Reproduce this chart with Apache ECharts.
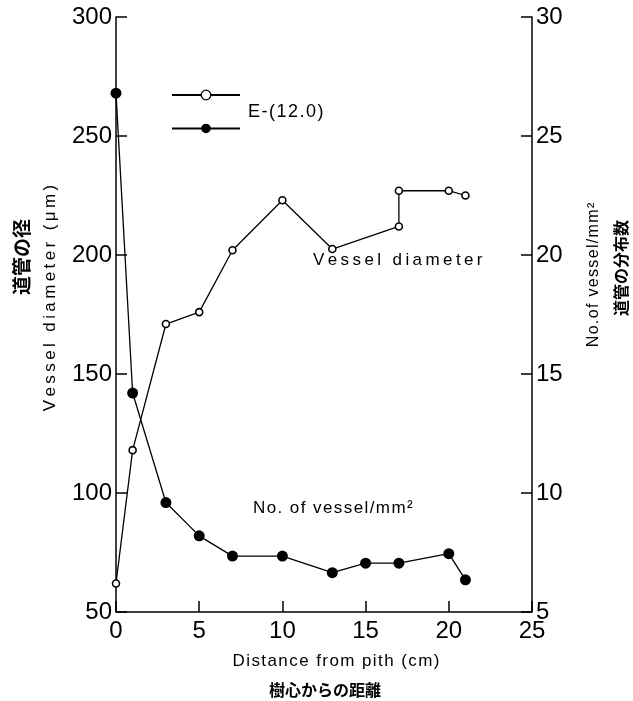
<!DOCTYPE html>
<html>
<head>
<meta charset="utf-8">
<script src="https://cdn.jsdelivr.net/npm/echarts@6/dist/echarts.min.js"></script>
<style>
html,body{margin:0;padding:0;background:#fff;}
#chart{width:633px;height:701px;}
</style>
</head>
<body>
<div id="chart"></div>
<script>
// Vessel diameter (open circles, left axis, µm)
const diameterX = [0, 1, 3, 5, 7, 10, 13, 17, 17, 20, 21];
const diameterY = [62, 118, 171, 176, 202, 223, 202.5, 212, 227, 227, 225];
// Number of vessels per mm² (filled circles, right axis)
const countX = [0, 1, 3, 5, 7, 10, 13, 15, 17, 20, 21];
const countY = [26.8, 14.2, 9.6, 8.2, 7.35, 7.35, 6.65, 7.05, 7.05, 7.45, 6.35];
// Axis ranges / ticks
const xTicks = [0, 5, 10, 15, 20, 25];
const leftTicks = [50, 100, 150, 200, 250, 300];
const rightTicks = [5, 10, 15, 20, 25, 30];
const legendText = 'E-(12.0)';

const FONT = '"Liberation Sans", Arial, sans-serif';
const CJK = '"Noto Sans CJK JP", sans-serif';
const THIN = '\u2009', HAIR = '\u200A';
const sp = (s, ch) => s.split('').join(ch);

const chart = echarts.init(document.getElementById('chart'), null, {renderer: 'canvas'});

const axisCommon = {
  axisLine: {show: true, lineStyle: {color: '#000', width: 1.5}},
  axisTick: {show: true, inside: true, length: 11, lineStyle: {color: '#000', width: 1.5}},
  splitLine: {show: false},
  axisLabel: {color: '#000', fontSize: 24, fontFamily: FONT}
};

function vText(x, y, text, font) {
  return {type: 'text', x: x, y: y, rotation: Math.PI / 2,
    style: {text: text, font: font, fill: '#000', textAlign: 'center', textVerticalAlign: 'middle'}};
}
function hText(x, y, text, font) {
  return {type: 'text', x: x, y: y,
    style: {text: text, font: font, fill: '#000', textAlign: 'center', textVerticalAlign: 'middle'}};
}

const option = {
  animation: false,
  backgroundColor: '#fff',
  grid: {left: 116, right: 101, top: 17, bottom: 89, containLabel: false},
  xAxis: Object.assign({}, axisCommon, {
    type: 'value', min: xTicks[0], max: xTicks[xTicks.length - 1], interval: 5,
    axisLabel: Object.assign({}, axisCommon.axisLabel, {margin: 7})
  }),
  yAxis: [
    Object.assign({}, axisCommon, {
      type: 'value', position: 'left', min: leftTicks[0], max: leftTicks[leftTicks.length - 1], interval: 50,
      axisLabel: Object.assign({}, axisCommon.axisLabel, {margin: 4})
    }),
    Object.assign({}, axisCommon, {
      type: 'value', position: 'right', min: rightTicks[0], max: rightTicks[rightTicks.length - 1], interval: 5,
      axisLabel: Object.assign({}, axisCommon.axisLabel, {margin: 4})
    })
  ],
  legend: {
    orient: 'vertical', left: 166, top: 84, itemWidth: 68, itemHeight: 12, itemGap: 22,
    formatter: () => '',
    data: [
      {name: 'diameter', itemStyle: {borderWidth: 1.3}},
      {name: 'count'}
    ],
    textStyle: {fontSize: 1}
  },
  graphic: [
    {type: 'text', left: 248, top: 103, style: {text: sp(legendText, HAIR), font: '18px ' + FONT, fill: '#000'}},
    {type: 'text', left: 313, top: 252, style: {text: sp('Vessel diameter', THIN), font: '17px ' + FONT, fill: '#000'}},
    {type: 'text', left: 253, top: 500, style: {text: sp('No. of vessel/mm²', HAIR), font: '17px ' + FONT, fill: '#000'}},
    vText(50, 298, sp('Vessel diameter (μm)', THIN), '17px ' + FONT),
    vText(22, 257, '道管の径', 'bold 19px ' + CJK),
    vText(594, 275, sp('No.of vessel/mm²', HAIR), '16px ' + FONT),
    vText(621, 268, '道管の分布数', 'bold 16px ' + CJK),
    hText(336, 661, sp('Distance from pith (cm)', HAIR), '17px ' + FONT),
    hText(325, 690, '樹心からの距離', 'bold 16px ' + CJK)
  ],
  series: [
    {
      name: 'diameter', type: 'line', yAxisIndex: 0,
      data: diameterX.map((x, i) => [x, diameterY[i]]),
      symbol: 'circle', symbolSize: 7,
      lineStyle: {color: '#000', width: 1.3},
      itemStyle: {color: '#fff', borderColor: '#000', borderWidth: 1.6},
      z: 3
    },
    {
      name: 'count', type: 'line', yAxisIndex: 1,
      data: countX.map((x, i) => [x, countY[i]]),
      symbol: 'circle', symbolSize: 11,
      lineStyle: {color: '#000', width: 1.3},
      itemStyle: {color: '#000', borderColor: '#000', borderWidth: 0},
      z: 2
    }
  ]
};
chart.setOption(option);
</script>
</body>
</html>
